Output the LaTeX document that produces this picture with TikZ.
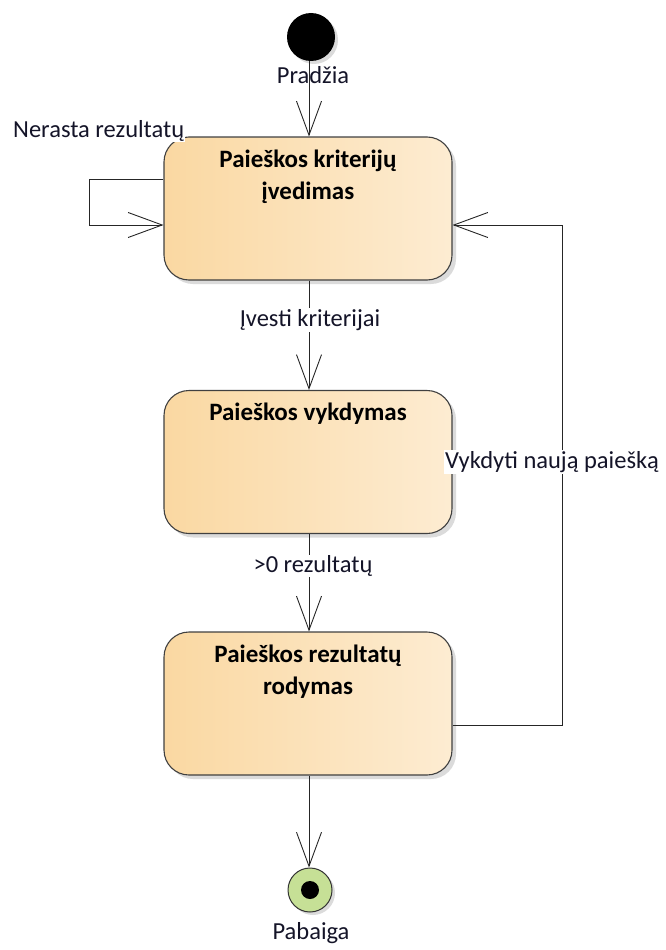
\documentclass[tikz,border=0pt]{standalone}
\usepackage{fontspec}
\setmainfont{Carlito}
\usetikzlibrary{arrows.meta,shadows}
\definecolor{boxleft}{RGB}{250,216,162}
\definecolor{boxright}{RGB}{253,236,210}
\definecolor{boxline}{RGB}{64,64,64}
\definecolor{endfill}{RGB}{198,224,150}
\definecolor{labeltext}{RGB}{20,20,40}
\tikzset{
  state/.style={draw=boxline, line width=1.1pt, rounded corners=25pt,
    left color=boxleft, right color=boxright,
    minimum width=288pt, minimum height=143pt, inner sep=0pt,
    drop shadow={shadow xshift=4pt, shadow yshift=-4pt, fill=black!14, opacity=1}},
  statetext/.style={font=\fontsize{25}{32}\selectfont\bfseries, align=center,
    anchor=north, inner sep=0pt, text=black},
  labelfont/.style={font=\fontsize{24.5}{28}\selectfont, text=labeltext},
  edgelabel/.style={labelfont, fill=white, inner sep=1pt},
  flow/.style={draw=black!85, line width=0.9pt,
    -{Straight Barb[length=34pt, width=25pt, line width=0.9pt]}}
}
\begin{document}
\begin{tikzpicture}[x=1pt, y=-1pt]
\useasboundingbox (0,0) rectangle (665,950);

% initial and final pseudo-states
\node[circle, fill=black, minimum size=48pt, inner sep=0pt,
  drop shadow={shadow xshift=3pt, shadow yshift=-3pt, fill=black!14, opacity=1}]
  (start) at (311,37) {};
\node[circle, draw=black!80, line width=1pt, fill=endfill, minimum size=44pt, inner sep=0pt,
  drop shadow={shadow xshift=3pt, shadow yshift=-3pt, fill=black!14, opacity=1}]
  (stop) at (310,890) {};
\node[circle, fill=black, minimum size=18pt, inner sep=0pt] (stopdot) at (stop.center) {};

% states
\node[state] (s1) at (308,208.5) {};
\node[state] (s2) at (308,462) {};
\node[state] (s3) at (308,703.5) {};

\node[statetext] (t1) at ([yshift=-13pt]s1.north) {Paieškos kriterijų\\įvedimas};
\node[statetext] (t2) at ([yshift=-13pt]s2.north) {Paieškos vykdymas};
\node[statetext] (t3) at ([yshift=-13pt]s3.north) {Paieškos rezultatų\\rodymas};

% loop anchors
\coordinate (l1a) at (s1.west |- 0,179);
\coordinate (l1b) at (89,179);
\coordinate (l1c) at (89,225);
\coordinate (l1d) at (s1.west |- 0,225);
\coordinate (r3) at (s3.east |- 0,725);
\coordinate (rc1) at (562,725);
\coordinate (rc2) at (562,225);
\coordinate (r1) at (s1.east |- 0,225);

% transitions
\draw[flow] (start.south -| 309,0) -- (s1.north -| 309,0);
\draw[flow] (s1.south -| 309,0) -- (s2.north -| 309,0);
\draw[flow] (s2.south -| 309,0) -- (s3.north -| 309,0);
\draw[flow] (s3.south -| 309,0) -- (stop.north -| 309,0);
\draw[flow] (l1a) -- (l1b) -- (l1c) -- (l1d);
\draw[flow] (r3) -- (rc1) -- (rc2) -- (r1);

% labels
\node[labelfont, inner sep=0pt] (lstart) at (313,75) {Pradžia};
\node[edgelabel, anchor=west] (lloop) at (12,131) {Nerasta rezultatų};
\node[edgelabel] (l12) at (310,320) {Įvesti kriterijai};
\node[edgelabel] (l23) at (313,566) {>0 rezultatų};
\node[edgelabel, anchor=west] (lback) at (444,462) {Vykdyti naują paiešką};
\node[labelfont, inner sep=0pt] (lstop) at (311,933) {Pabaiga};
\end{tikzpicture}
\end{document}
